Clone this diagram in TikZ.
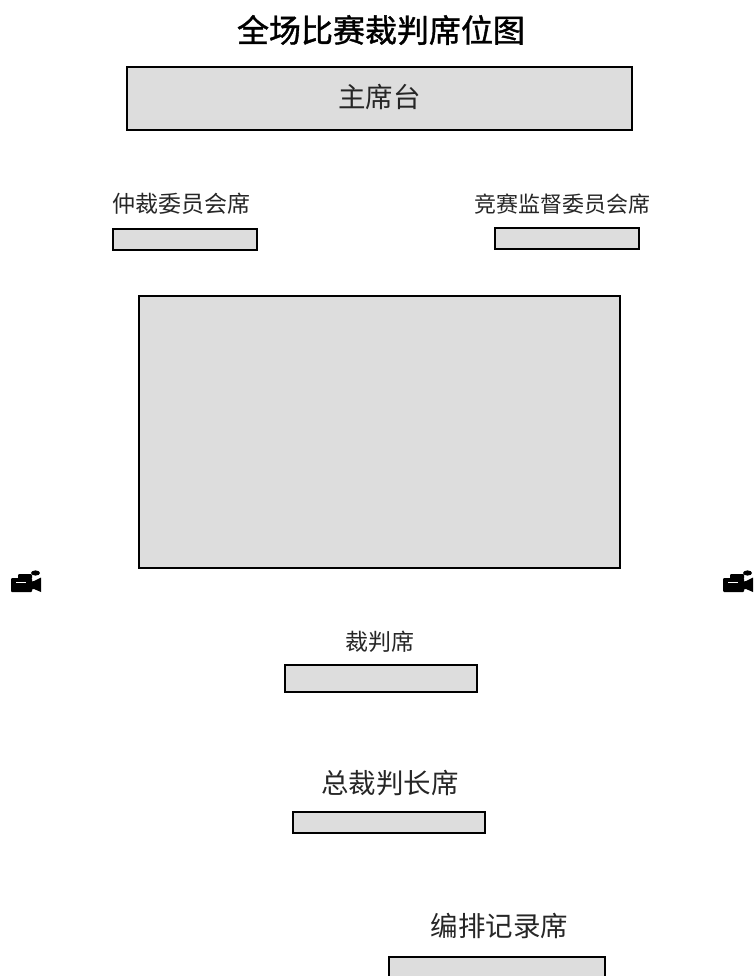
\documentclass[tikz,border=0pt]{standalone}
\usepackage{fontspec}
\newfontfamily\cjk{Noto Sans CJK SC}
\newfontfamily\cjkhead[FakeBold=1.2]{Noto Sans CJK SC}
\usetikzlibrary{positioning}

\definecolor{seat}{HTML}{DDDDDD}

\newcommand{\camera}[1]{%
  \begin{scope}[shift={(#1,0)}]
    \fill[black, rounded corners=1pt] (11,578) rectangle (32,592);
    \fill[black, rounded corners=1pt] (18,574) rectangle (32,579);
    \fill[black] (35.5,573) ellipse (4.5 and 2.6);
    \fill[black] (29,582) -- (34,581) -- (41,577.5) -- (41,592) -- (34,589) -- (29,590) -- cycle;
    \fill[white] (16,581.6) rectangle (26,582.6);
  \end{scope}}

\tikzset{
  seatbox/.style = {draw, fill=seat, line width=1.4pt, minimum height=#1, inner sep=0pt},
  title/.style = {font=\cjkhead\fontsize{32}{32}\selectfont, text=black, inner sep=0pt},
  large/.style = {font=\cjk\fontsize{27.5}{28}\selectfont, text=black!85, inner sep=0pt},
  small/.style = {font=\cjk\fontsize{23}{24}\selectfont, text=black!85, inner sep=0pt}
}

\begin{document}
\begin{tikzpicture}[x=1pt, y=-1pt]
  \clip (0,0) rectangle (753,976);

  \node[title] (heading) at (381,30) {全场比赛裁判席位图};

  \node[seatbox=63pt, minimum width=505pt] (main) at (379.5,98.5) {};
  \node[large] (mainlabel) at (379.5,97) {主席台};

  \node[small] (jurylabel) at (181,204) {仲裁委员会席};
  \node[seatbox=21pt, minimum width=144pt] (jury) at (185,239.5) {};

  \node[small] (supervisorlabel) at (562,204) {\fontsize{22}{24}\selectfont 竞赛监督委员会席};
  \node[seatbox=21pt, minimum width=144pt] (supervisor) at (567,238.5) {};

  \node[seatbox=272pt, minimum width=481pt] (field) at (379.5,432) {};

  \node[small] (refereelabel) at (379.5,642) {裁判席};
  \node[seatbox=27pt, minimum width=192pt] (referee) at (381,678.5) {};

  \node[large] (chieflabel) at (390,783) {总裁判长席};
  \node[seatbox=21pt, minimum width=192pt] (chief) at (389,822.5) {};

  \node[large] (recordlabel) at (499.5,926) {编排记录席};
  \node[seatbox=40pt, minimum width=216pt] (record) at (497,977) {};

  \camera{0}
  \camera{712}
\end{tikzpicture}
\end{document}
